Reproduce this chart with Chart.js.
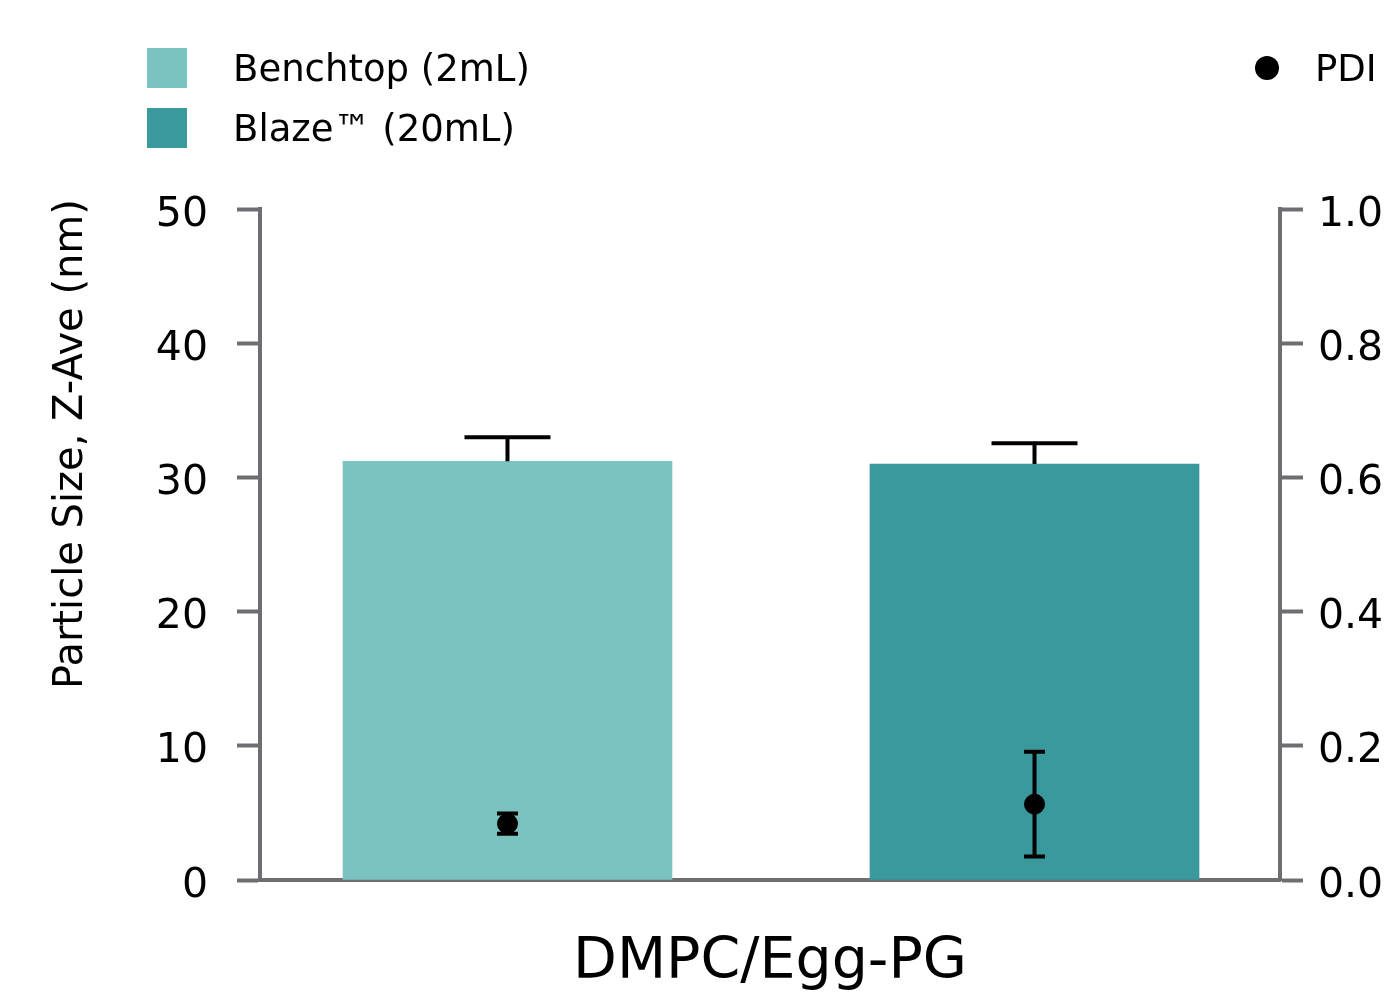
<!DOCTYPE html>
<html>
<head>
<meta charset="utf-8">
<script src="https://cdn.jsdelivr.net/npm/chart.js@4.4.1/dist/chart.umd.min.js"></script>
<style>
  body { margin: 0; background: #fff; }
  #wrap { position: relative; width: 1385px; height: 1000px; overflow: hidden; font-family: "DejaVu Sans", sans-serif; }
  canvas { position: absolute; left: 0; top: 0; }
  .key { position: absolute; display: flex; align-items: center; font-size: 37px; color: #000; white-space: nowrap; }
  .swatch { width: 40px; height: 40px; margin-right: 46px; }
  .dot { width: 24px; height: 24px; border-radius: 50%; background: #000; margin-right: 36px; }
</style>
</head>
<body>
<div id="wrap">
  <canvas id="chart" width="1385" height="1000"></canvas>
  <div class="key" style="left:147px; top:48px; height:40px;"><span class="swatch" style="background:#7bc3c1"></span>Benchtop (2mL)</div>
  <div class="key" style="left:147px; top:108px; height:40px;"><span class="swatch" style="background:#3a999d"></span>Blaze™ (20mL)</div>
  <div class="key" style="left:1255px; top:48px; height:40px;"><span class="dot"></span>PDI</div>
</div>
<script>
// groups along the x axis
const groups = ["Benchtop (2mL)", "Blaze™ (20mL)"];
const groupPos = [0, 1];

// particle size (nm), mean and upper error
const sizeMean = [31.2, 31.0];
const sizeErr = [1.8, 1.55];

// PDI, mean and +/- error
const pdiMean = [0.084, 0.113];
const pdiErr = [0.015, 0.078];

const sizeTicks = [0, 10, 20, 30, 40, 50];
const pdiTicks = [0, 0.2, 0.4, 0.6, 0.8, 1.0];

const axisGray = "#6d6e71";
const font = "'DejaVu Sans', sans-serif";

// draws error bars for datasets that carry an "errors" array
const errorBars = {
  id: "errorBars",
  afterDatasetsDraw(chart) {
    const ctx = chart.ctx;
    chart.data.datasets.forEach((ds, i) => {
      if (!ds.errors) return;
      const meta = chart.getDatasetMeta(i);
      const xs = chart.scales[meta.xAxisID];
      const ys = chart.scales[meta.yAxisID];
      ds.data.forEach((d, j) => {
        const err = ds.errors[j];
        const x = xs.getPixelForValue(d.x);
        const top = ys.getPixelForValue(d.y + err);
        const bot = ds.upperOnly ? ys.getPixelForValue(d.y) : ys.getPixelForValue(d.y - err);
        const hw = ds.capWidth / 2;
        ctx.save();
        ctx.strokeStyle = "#000";
        ctx.lineWidth = 4;
        ctx.beginPath();
        ctx.moveTo(x, top);
        ctx.lineTo(x, bot);
        ctx.moveTo(x - hw, top);
        ctx.lineTo(x + hw, top);
        if (!ds.upperOnly) {
          ctx.moveTo(x - hw, bot);
          ctx.lineTo(x + hw, bot);
        }
        ctx.stroke();
        ctx.restore();
      });
    });
  }
};

// rotated title for the left axis
const yTitle = {
  id: "yTitle",
  afterDraw(chart) {
    const ctx = chart.ctx;
    ctx.save();
    ctx.translate(72, 444);
    ctx.rotate(-Math.PI / 2);
    ctx.font = "40px " + font;
    ctx.fillStyle = "#000";
    ctx.textAlign = "center";
    ctx.textBaseline = "middle";
    ctx.fillText("Particle Size, Z-Ave (nm)", 0, 0);
    ctx.restore();
  }
};

new Chart(document.getElementById("chart"), {
  type: "bar",
  data: {
    datasets: [
      {
        label: groups[0],
        data: [{ x: groupPos[0], y: sizeMean[0] }],
        backgroundColor: "#7bc3c1",
        errors: [sizeErr[0]],
        upperOnly: true,
        capWidth: 86,
        grouped: false,
        barThickness: 329,
        yAxisID: "y",
      },
      {
        label: groups[1],
        data: [{ x: groupPos[1], y: sizeMean[1] }],
        backgroundColor: "#3a999d",
        errors: [sizeErr[1]],
        upperOnly: true,
        capWidth: 86,
        grouped: false,
        barThickness: 329,
        yAxisID: "y",
      },
      {
        type: "scatter",
        label: "PDI",
        data: groupPos.map((x, i) => ({ x: x, y: pdiMean[i] })),
        backgroundColor: "#000",
        borderColor: "#000",
        pointRadius: 10,
        errors: pdiErr,
        capWidth: 21,
        order: -1,
        yAxisID: "y1",
      },
    ],
  },
  options: {
    responsive: false,
    animation: false,
    devicePixelRatio: 1,
    layout: { padding: { top: 209, right: 0, bottom: 0, left: 0 } },
    plugins: {
      legend: { display: false },
      tooltip: { enabled: false },
    },
    scales: {
      x: {
        type: "linear",
        offset: false,
        min: -0.4696,
        max: 1.4658,
        z: 1,
        grid: { display: false },
        ticks: { display: false },
        border: { display: true, color: axisGray, width: 4 },
        title: {
          display: true,
          text: "DMPC/Egg-PG",
          color: "#000",
          font: { family: font, size: 57 },
          padding: { top: 0, bottom: 3 },
        },
        afterFit: (s) => { s.height = 120; },
      },
      y: {
        position: "left",
        min: 0,
        max: 50,
        z: 1,
        afterBuildTicks: (s) => { s.ticks = sizeTicks.map((v) => ({ value: v })); },
        ticks: { color: "#000", padding: 29, labelOffset: 6, font: { family: font, size: 41 } },
        grid: { drawOnChartArea: false, drawTicks: true, tickLength: 23, tickWidth: 4, tickColor: axisGray },
        border: { display: true, color: axisGray, width: 4 },
        afterFit: (s) => { s.width = 260; },
      },
      y1: {
        position: "right",
        min: 0,
        max: 1,
        z: 1,
        afterBuildTicks: (s) => { s.ticks = pdiTicks.map((v) => ({ value: v })); },
        ticks: { color: "#000", padding: 15, labelOffset: 6, font: { family: font, size: 41 }, callback: (v) => v.toFixed(1) },
        grid: { drawOnChartArea: false, drawTicks: true, tickLength: 23, tickWidth: 4, tickColor: axisGray },
        border: { display: true, color: axisGray, width: 4 },
        afterFit: (s) => { s.width = 105; },
      },
    },
  },
  plugins: [errorBars, yTitle],
});
</script>
</body>
</html>
